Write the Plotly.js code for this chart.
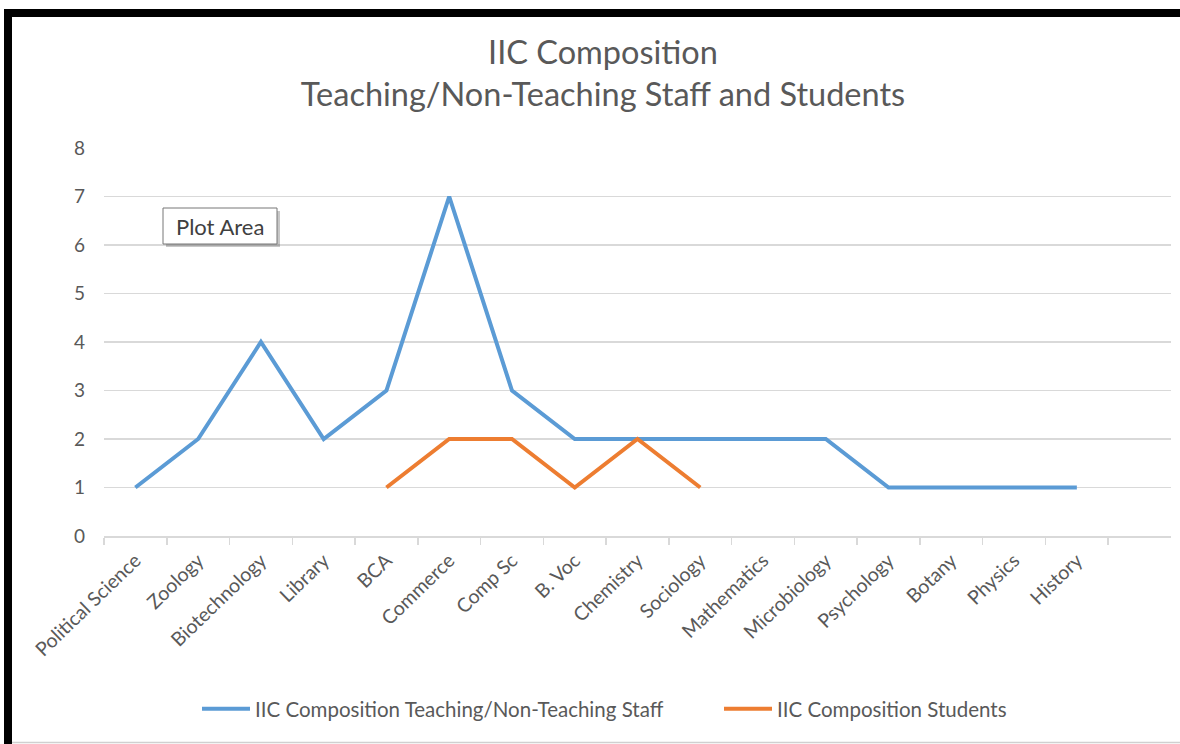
<!DOCTYPE html>
<html>
<head>
<meta charset="utf-8">
<script src="https://cdn.plot.ly/plotly-3.0.1.min.js"></script>
<style>
html,body{margin:0;padding:0;background:#fff;}
#chart{width:1180px;height:744px;}
</style>
</head>
<body>
<div id="chart"></div>
<script>
var categories = ["Political Science","Zoology","Biotechnology","Library","BCA","Commerce","Comp Sc","B. Voc","Chemistry","Sociology","Mathematics","Microbiology","Psychology","Botany","Physics","History"];
var staffValues = [1,2,4,2,3,7,3,2,2,2,2,2,1,1,1,1];
var studentValues = [null,null,null,null,1,2,2,1,2,1,null,null,null,null,null,null];
var yTicks = [0,1,2,3,4,5,6,7,8];
var seriesNames = ["IIC Composition Teaching/Non-Teaching Staff","IIC Composition Students"];

var W = 1180, H = 744;
var L = 104, R = 1171, T = 148, B = 536;
function px(x){ return (x - L) / (R - L); }
function py(y){ return (B - y) / (B - T); }

var font = "Lato, 'Open Sans', sans-serif";

var traces = [
  {x: categories, y: staffValues, type: 'scatter', mode: 'lines', name: seriesNames[0], legend: 'legend',
   line: {color: '#5B9BD5', width: 4}, hoverinfo: 'skip'},
  {x: categories, y: studentValues, type: 'scatter', mode: 'lines', name: seriesNames[1], legend: 'legend2',
   line: {color: '#ED7D31', width: 4}, connectgaps: false, hoverinfo: 'skip'}
];

var legendBase = {orientation: 'h', xanchor: 'left', xref: 'container', y: 1 - 709 / H, yref: 'container', yanchor: 'middle',
                  font: {size: 20.5, color: '#595959'}, itemwidth: 48, bgcolor: 'rgba(0,0,0,0)'};

var layout = {
  width: W, height: H,
  margin: {l: L, r: W - R, t: T, b: H - B, pad: 0},
  paper_bgcolor: '#fff', plot_bgcolor: '#fff',
  font: {family: font, color: '#595959', size: 19},
  title: {text: 'IIC Composition<br>Teaching/Non-Teaching Staff and Students',
          x: 603 / W, xanchor: 'center', xref: 'container', y: 1 - 64 / H, yanchor: 'middle', yref: 'container',
          font: {family: font, size: 32.5, color: '#595959'}},
  xaxis: {type: 'category', range: [-0.5, 16.5], tickson: 'boundaries', ticks: 'outside', ticklen: 7,
          tickcolor: '#d9d9d9', tickwidth: 1.5, showgrid: false, showline: true, linecolor: '#d9d9d9', linewidth: 1.5,
          tickangle: -44, tickfont: {size: 19.5, color: '#595959'}, ticklabelstandoff: 4, zeroline: false, fixedrange: true},
  yaxis: {range: [0, 8], tickvals: yTicks, showgrid: true, gridcolor: '#d9d9d9', gridwidth: 1.5,
          zeroline: false, showline: false, ticks: '', tickfont: {size: 19, color: '#595959'}, ticklabelstandoff: 18, fixedrange: true},
  showlegend: true,
  legend: Object.assign({}, legendBase, {x: 197 / W}),
  legend2: Object.assign({}, legendBase, {x: 719 / W}),
  shapes: [
    {type: 'rect', xref: 'paper', yref: 'paper', x0: px(4), x1: px(1181), y0: py(9), y1: py(17), fillcolor: '#000', line: {width: 0}, layer: 'above'},
    {type: 'rect', xref: 'paper', yref: 'paper', x0: px(4), x1: px(12), y0: py(9), y1: py(745), fillcolor: '#000', line: {width: 0}, layer: 'above'},
    {type: 'line', xref: 'paper', yref: 'paper', x0: px(12), x1: px(1181), y0: py(742.5), y1: py(742.5), line: {color: '#d0d0d0', width: 1.5}},
    {type: 'rect', xref: 'paper', yref: 'paper', x0: px(166), x1: px(280), y0: py(211), y1: py(247), fillcolor: 'rgba(0,0,0,0.22)', line: {width: 0}, layer: 'above'},
    {type: 'rect', xref: 'paper', yref: 'paper', x0: px(163), x1: px(277), y0: py(208), y1: py(244), fillcolor: '#fff', line: {color: '#767676', width: 1}, layer: 'above'}
  ],
  annotations: [
    {text: 'Plot Area', xref: 'paper', yref: 'paper', x: px(220), y: py(226), xanchor: 'center', yanchor: 'middle',
     showarrow: false, font: {family: font, size: 22, color: '#404040'}}
  ]
};

Plotly.newPlot('chart', traces, layout, {displayModeBar: false, staticPlot: true});
</script>
</body>
</html>
